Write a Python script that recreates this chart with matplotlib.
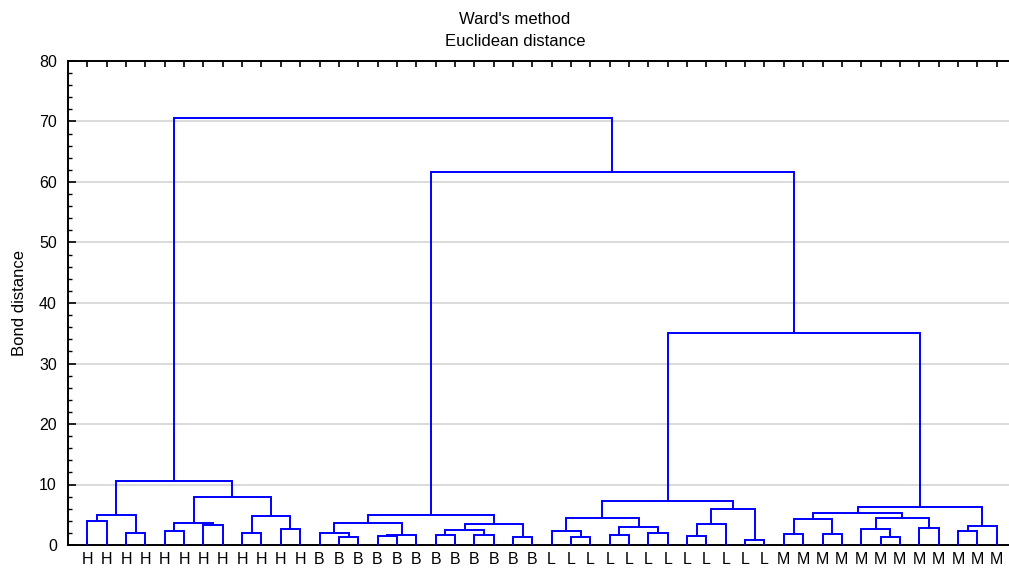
import numpy as np
import matplotlib
matplotlib.use('Agg')
from matplotlib import pyplot as plt

plt.rcParams['font.family'] = ['Liberation Sans', 'DejaVu Sans']

# leaf labels, left to right
leaf_labels = ['H'] * 12 + ['B'] * 12 + ['L'] * 12 + ['M'] * 12

# merges: (left id, right id, height); ids >= 48 are earlier merges (48 + row)
merge_left = [0, 2, 48, 4, 6, 51, 8, 10, 54, 53, 50,
              13, 12, 15, 61, 60, 18, 20, 64, 22, 66, 63,
              25, 24, 27, 29, 72, 71, 31, 76, 34, 77, 75,
              36, 38, 81, 41, 40, 43, 85, 83, 45, 89, 88,
              80, 69, 58]
merge_right = [1, 3, 49, 5, 7, 52, 9, 11, 55, 56, 57,
               14, 59, 16, 17, 62, 19, 21, 65, 23, 67, 68,
               26, 70, 28, 30, 73, 74, 32, 33, 35, 78, 79,
               37, 39, 82, 42, 84, 44, 86, 87, 46, 47, 90,
               91, 92, 93]
merge_height = [3.9, 2.0, 5.0, 2.3, 3.3, 3.7, 2.0, 2.7, 4.8, 7.9, 10.5,
                1.4, 2.0, 1.5, 1.7, 3.6, 1.6, 1.6, 2.5, 1.4, 3.5, 4.9,
                1.4, 2.3, 1.6, 2.0, 3.0, 4.5, 1.5, 3.5, 0.9, 6.0, 7.3,
                1.9, 1.8, 4.3, 1.4, 2.6, 2.8, 4.4, 5.3, 2.3, 3.2, 6.2,
                35.0, 61.7, 70.5]

n_leaves = len(leaf_labels)
node_x = {i: i + 1.0 for i in range(n_leaves)}
node_y = {i: 0.0 for i in range(n_leaves)}

fig = plt.figure(figsize=(10.09, 5.69), dpi=100)
ax = fig.add_axes([68 / 1009, 24 / 569, 948 / 1009, 484 / 569])

for k, (a, b, h) in enumerate(zip(merge_left, merge_right, merge_height)):
    xa, xb = node_x[a], node_x[b]
    ax.plot([xa, xa, xb, xb], [node_y[a], h, h, node_y[b]],
            color='#0000ff', linewidth=1.4, solid_joinstyle='miter', zorder=3)
    node_x[n_leaves + k] = (xa + xb) / 2
    node_y[n_leaves + k] = h

ax.set_xlim(0, n_leaves + 1)
ax.set_ylim(0, 80)
ax.set_xticks(np.arange(1, n_leaves + 1))
ax.set_xticklabels(leaf_labels, fontsize=11.5)
ax.set_yticks(np.arange(0, 81, 10))
ax.set_yticks(np.arange(0, 81, 2), minor=True)
ax.tick_params(axis='y', labelsize=11.5)
ax.tick_params(axis='x', which='both', direction='in', top=True, length=4, width=1.2, pad=5)
ax.tick_params(axis='y', which='major', direction='in', length=6, width=1.2, pad=8)
ax.tick_params(axis='y', which='minor', direction='in', length=3, width=1.0)
ax.yaxis.grid(True, color='#d4d4d4', linewidth=1.2)
ax.set_axisbelow(True)
for side in ['left', 'bottom', 'top']:
    ax.spines[side].set_linewidth(1.4)
ax.spines['right'].set_visible(False)

ax.set_ylabel('Bond distance', fontsize=12, labelpad=9)
fig.text(515 / 1009, 1 - 20 / 569, "Ward's method", ha='center', va='center', fontsize=12)
fig.text(515 / 1009, 1 - 42 / 569, 'Euclidean distance', ha='center', va='center', fontsize=12)

fig.savefig('out.png', dpi=100)
plt.close()
